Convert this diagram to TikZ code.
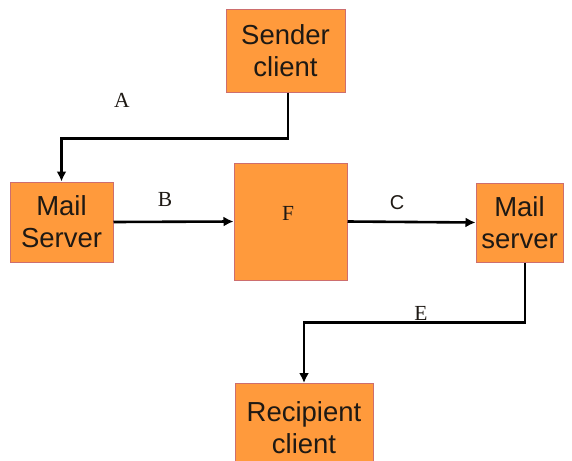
\documentclass[tikz,border=0pt]{standalone}
\usepackage{fontspec}
\setmainfont{Liberation Serif}
\setsansfont{Liberation Sans}
\usetikzlibrary{arrows.meta}
\definecolor{boxfill}{RGB}{255,154,60}
\definecolor{boxedge}{RGB}{205,110,110}
\definecolor{txt}{RGB}{30,25,20}
\tikzset{
  mbox/.style={draw=boxedge, line width=1pt, fill=boxfill, inner sep=0pt,
    align=center, text=txt, font=\sffamily\fontsize{27.5}{32}\selectfont},
  flow/.style={line width=2.6pt, -{Latex[length=10pt,width=10pt]}},
  lab/.style={font=\fontsize{21.5}{24}\selectfont, text=txt}
}
\begin{document}
\begin{tikzpicture}[x=1pt,y=-1pt]
\useasboundingbox (0,0) rectangle (572,460);
\node[mbox, minimum width=119pt, minimum height=82pt] (snd) at (285.5,51) {Sender\\client};
\node[mbox, minimum width=103pt, minimum height=80pt] (ms1) at (61.5,222) {Mail\\Server};
\node[mbox, minimum width=113pt, minimum height=117pt] (f) at (290.5,221.5) {};
\node[lab] (flab) at (288,213) {F};
\node[mbox, minimum width=87pt, minimum height=79pt] (ms2) at (519.5,222.5) {Mail\\server};
\node[mbox, minimum width=138pt, minimum height=88pt, anchor=north] (rcp) at (304,383) {Recipient\\client};
\draw[flow] ([xshift=2.5pt]snd.south) -- ++(0,46) -| (ms1.north);
\draw[flow] (ms1.east) -- (f.west);
\draw[flow] (f.east) -- (ms2.west);
\draw[flow] ([xshift=5.5pt]ms2.south) -- ++(0,60) -| (rcp.north);
\node[lab] (la) at (122,100) {A};
\node[lab] (lb) at (165,199) {B};
\node[lab, font=\sffamily\fontsize{20}{22}\selectfont] (lc) at (397,203) {C};
\node[lab] (le) at (421,313) {E};
\end{tikzpicture}
\end{document}
